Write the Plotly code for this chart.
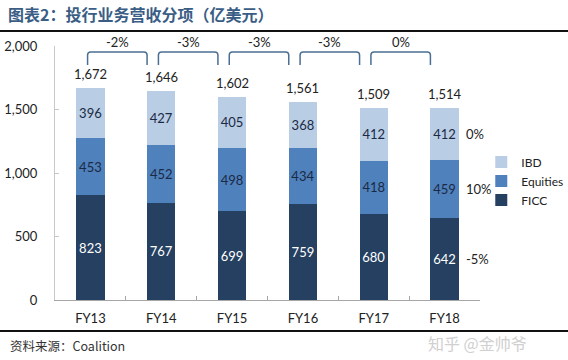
import plotly.graph_objects as go

categories = ["FY13", "FY14", "FY15", "FY16", "FY17", "FY18"]
ficc = [823, 767, 699, 759, 680, 642]
equities = [453, 452, 498, 434, 418, 459]
ibd = [396, 427, 405, 368, 412, 412]
totals = [1672, 1646, 1602, 1561, 1509, 1514]
yoy_labels = ["-2%", "-3%", "-3%", "-3%", "0%"]
seg_change = {"IBD": "0%", "Equities": "10%", "FICC": "-5%"}
y_ticks = [0, 500, 1000, 1500, 2000]
y_tick_text = ["0", "500", "1,000", "1,500", "2,000"]

C_IBD = "#b9cde5"
C_EQ = "#4f81bd"
C_FICC = "#254061"
FONT = "Lato, 'Liberation Sans', sans-serif"

fig = go.Figure()
series = [("FICC", ficc, C_FICC, "white"),
          ("Equities", equities, C_EQ, "#1b2a44"),
          ("IBD", ibd, C_IBD, "#1b2a44")]
for name, vals, col, tcol in series:
    fig.add_trace(go.Bar(
        x=categories, y=vals, name=name, marker=dict(color=col, line=dict(width=0)),
        text=[str(v) for v in vals], textposition="inside", insidetextanchor="middle",
        textangle=0, constraintext="none",
        textfont=dict(color=tcol, size=13, family=FONT),
        width=0.4,
    ))

annotations = []
shapes = []
# totals above bars
for i, t in enumerate(totals):
    annotations.append(dict(x=i, y=t, xref="x", yref="y", text=f"{t:,}",
                            showarrow=False, yshift=14,
                            font=dict(size=13, color="#222", family=FONT)))

# brackets between consecutive bars
yl, yt = 1850, 1953
rx, ry = 0.045, 24
for i, lab in enumerate(yoy_labels):
    x0 = i - 0.04
    x1 = i + 1 - 0.2
    path = (f"M {x0},{yl} L {x0},{yt-ry} Q {x0},{yt} {x0+rx},{yt} "
            f"L {x1-rx},{yt} Q {x1},{yt} {x1},{yt-ry} L {x1},{yl}")
    shapes.append(dict(type="path", path=path, xref="x", yref="y",
                       line=dict(color="#4a6f93", width=1.5)))
    annotations.append(dict(x=(x0 + x1) / 2, y=1.016, xref="x", yref="paper", text=lab,
                            yanchor="middle", showarrow=False,
                            font=dict(size=13, color="#222", family=FONT)))

# right-side segment changes at FY18 segment midpoints
last = len(categories) - 1
mids = {
    "FICC": ficc[last] / 2,
    "Equities": ficc[last] + equities[last] / 2,
    "IBD": ficc[last] + equities[last] + ibd[last] / 2,
}
for k, v in seg_change.items():
    annotations.append(dict(x=last + 0.27, y=mids[k], xref="x", yref="y", text=v,
                            xanchor="left", showarrow=False,
                            font=dict(size=13, color="#222", family=FONT)))

# title, source, watermark
annotations.append(dict(x=-0.115, y=1.126, xref="paper", yref="paper",
                        text="<b>图表2：投行业务营收分项（亿美元）</b>",
                        xanchor="left", yanchor="middle", showarrow=False,
                        font=dict(size=16, color="#3a5d85", family="Noto Sans CJK SC")))
annotations.append(dict(x=-0.11, y=-0.178, xref="paper", yref="paper",
                        text="资料来源：Coalition", xanchor="left", yanchor="middle",
                        showarrow=False,
                        font=dict(size=12.5, color="#333", family="Noto Sans CJK SC")))
annotations.append(dict(x=1.115, y=-0.17, xref="paper", yref="paper",
                        text="知乎 @金帅爷", xanchor="right", yanchor="middle",
                        showarrow=False,
                        font=dict(size=16, color="#d0d0d0", family="Noto Sans CJK SC")))

# separator lines
shapes.append(dict(type="line", xref="paper", yref="paper", x0=-0.13, x1=1.21,
                   y0=1.059, y1=1.059, line=dict(color="#111", width=2)))
shapes.append(dict(type="line", xref="paper", yref="paper", x0=-0.13, x1=1.21,
                   y0=-0.122, y1=-0.122, line=dict(color="#111", width=2)))

fig.update_layout(
    width=568, height=360,
    margin=dict(l=55, r=88, t=46, b=60, autoexpand=False),
    barmode="stack",
    paper_bgcolor="white", plot_bgcolor="white",
    font=dict(family=FONT, size=13, color="#222"),
    showlegend=True,
    legend=dict(x=1.003, y=0.60, xanchor="left", yanchor="top",
                traceorder="reversed", font=dict(size=12, family=FONT, color="#222"),
                bgcolor="rgba(0,0,0,0)", itemwidth=30, tracegroupgap=0),
    annotations=annotations, shapes=shapes,
    xaxis=dict(type="category", showline=True, linecolor="#a6a6a6", linewidth=1,
               ticks="inside", ticklen=4, tickcolor="#a6a6a6", tickson="boundaries",
               showgrid=False, tickfont=dict(size=13, color="#222"),
               ticklabelstandoff=6, range=[-0.5, 5.5]),
    yaxis=dict(range=[0, 2000], tickvals=y_ticks, ticktext=y_tick_text,
               showline=True, linecolor="#c8c8c8", linewidth=1,
               ticks="inside", ticklen=4, tickcolor="#c8c8c8",
               showgrid=False, zeroline=False, tickfont=dict(size=13, color="#222"),
               ticklabelstandoff=14),
    bargap=0.6,
)

fig.write_html("out.html", config={"displayModeBar": False},
               post_script="document.body.style.margin='0';")
